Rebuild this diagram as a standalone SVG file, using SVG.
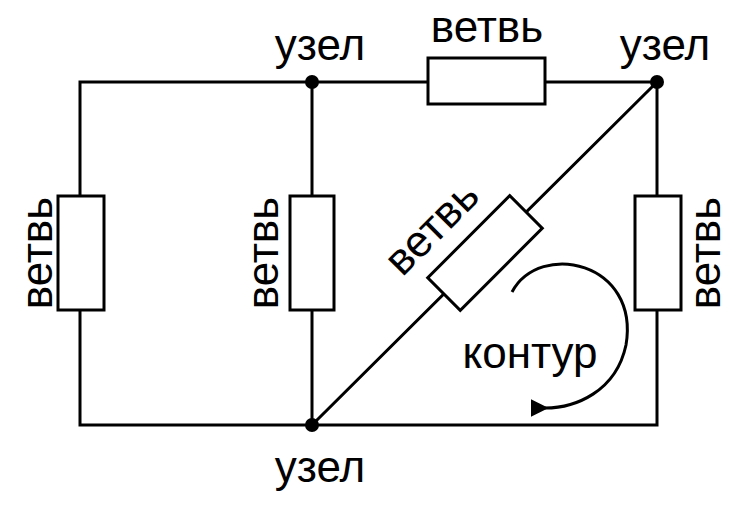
<svg xmlns="http://www.w3.org/2000/svg" width="750" height="512" viewBox="0 0 750 512">
<style>
.w{stroke:#000;stroke-width:3;fill:none}
.r{stroke:#000;stroke-width:3;fill:#fff}
text{font-family:"Liberation Sans",Arial,sans-serif;font-size:44px;fill:#000;text-anchor:middle}
</style>
<defs><marker id="a" viewBox="0 0 10 10" refX="2" refY="5" markerWidth="6" markerHeight="6" orient="auto"><path d="M10,0 L0,5 L10,10 Z" fill="#000"/></marker></defs>
<rect width="750" height="512" fill="#fff"/>
<g id="connectors">
<path class="w" d="M80,82 H657 V425 H80 Z M312,82 V425 M312,425 L657,82"/>
<path class="w" d="M512,292 C540,240 640,262 626,345 C616,392 575,408 545,408" marker-end="url(#a)"/>
</g>
<g id="r_left"><rect class="r" x="58" y="196" width="46" height="114"/><text transform="translate(52,253) rotate(-90)">ветвь</text></g>
<g id="r_mid"><rect class="r" x="290" y="196" width="44" height="114"/><text transform="translate(278,253) rotate(-90)">ветвь</text></g>
<g id="r_right"><rect class="r" x="635" y="196" width="46" height="114"/><text transform="translate(720,253) rotate(-90)">ветвь</text></g>
<g id="r_top"><rect class="r" x="428" y="58" width="117" height="46"/><text x="487" y="42">ветвь</text></g>
<g id="r_diag"><rect class="r" x="-58" y="-23" width="116" height="46" transform="translate(485,253) rotate(-45)"/><text transform="translate(442,238) rotate(-45)">ветвь</text></g>
<g id="n1"><circle cx="312" cy="82" r="7"/><text x="320" y="60">узел</text></g>
<g id="n2"><circle cx="657" cy="82" r="7"/><text x="665" y="60">узел</text></g>
<g id="n3"><circle cx="312" cy="425" r="7"/><text x="320" y="482">узел</text></g>
<text x="530" y="368" font-size="42">контур</text>
</svg>
